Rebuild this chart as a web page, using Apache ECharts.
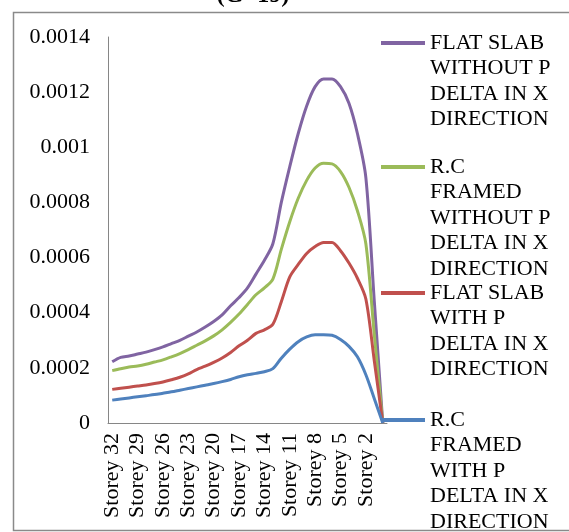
<!DOCTYPE html>
<html>
<head>
<meta charset="utf-8">
<script src="https://cdn.jsdelivr.net/npm/echarts@6/dist/echarts.min.js"></script>
<style>
  html, body { margin: 0; padding: 0; background: #fff; }
  #chart { width: 569px; height: 532px; }
</style>
</head>
<body>
<div id="chart"></div>
<script>
// storeys, top to base
const storeys = []
for (let s = 32; s >= 1; s--) storeys.push('Storey ' + s)
storeys.push('Base')

const seriesNames = [
  'FLAT SLAB\nWITHOUT P\nDELTA IN X\nDIRECTION',
  'R.C\nFRAMED\nWITHOUT P\nDELTA IN X\nDIRECTION',
  'FLAT SLAB\nWITH P\nDELTA IN X\nDIRECTION',
  'R.C\nFRAMED\nWITH P\nDELTA IN X\nDIRECTION'
]

// drift values
const flatSlabNoPDelta = [
  0.000222, 0.000238, 0.000243, 0.000250, 0.000257, 0.000266, 0.000276, 0.000288,
  0.000300, 0.000315, 0.000330, 0.000348, 0.000368, 0.000392, 0.000425, 0.000455,
  0.000490, 0.000540, 0.000590, 0.000650, 0.000800, 0.000930, 0.001050, 0.001150,
  0.001220, 0.001248, 0.001248, 0.001220, 0.001160, 0.001050, 0.000890, 0.000440, 0
]
const rcFramedNoPDelta = [
  0.000190, 0.000197, 0.000203, 0.000207, 0.000213, 0.000221, 0.000229, 0.000240,
  0.000252, 0.000266, 0.000282, 0.000298, 0.000316, 0.000338, 0.000365, 0.000395,
  0.000430, 0.000465, 0.000490, 0.000522, 0.000630, 0.000730, 0.000815, 0.000880,
  0.000925, 0.000942, 0.000940, 0.000912, 0.000855, 0.000770, 0.000650, 0.000320, 0
]
const flatSlabPDelta = [
  0.000122, 0.000126, 0.000130, 0.000134, 0.000138, 0.000143, 0.000149, 0.000157,
  0.000166, 0.000178, 0.000194, 0.000206, 0.000220, 0.000236, 0.000256, 0.000280,
  0.000300, 0.000325, 0.000338, 0.000358, 0.000440, 0.000530, 0.000575, 0.000615,
  0.000640, 0.000655, 0.000655, 0.000625, 0.000580, 0.000525, 0.000450, 0.000225, 0
]
const rcFramedPDelta = [
  0.000083, 0.000087, 0.000091, 0.000095, 0.000099, 0.000103, 0.000108, 0.000113,
  0.000119, 0.000125, 0.000131, 0.000137, 0.000143, 0.000150, 0.000158, 0.000168,
  0.000175, 0.000180, 0.000186, 0.000197, 0.000235, 0.000268, 0.000295, 0.000312,
  0.000320, 0.000320, 0.000318, 0.000303, 0.000278, 0.000240, 0.000175, 0.000088, 0
]

const yTicks = [0, 0.0002, 0.0004, 0.0006, 0.0008, 0.001, 0.0012, 0.0014]

const colors = ['#8064A2', '#9BBB59', '#C0504D', '#4F81BD']
const allData = [flatSlabNoPDelta, rcFramedNoPDelta, flatSlabPDelta, rcFramedPDelta]
const font = 'Liberation Serif'

const chart = echarts.init(document.getElementById('chart'))

// one legend per item; blank lines in front keep the icon on the first text line
const lineH = 25.5
const legendIconY = [43, 167, 293, 420]
const legends = seriesNames.map((name, i) => {
  const n = name.split('\n').length
  return {
    data: [name],
    left: 381,
    top: legendIconY[i] - (2 * n - 1) * lineH / 2,
    itemWidth: 44,
    itemHeight: 4,
    itemGap: 0,
    icon: 'rect',
    padding: 0,
    formatter: nm => '\n'.repeat(n - 1) + nm,
    textStyle: {
      fontFamily: font,
      fontSize: 22,
      color: '#000',
      lineHeight: lineH
    }
  }
})

const option = {
  animation: false,
  color: colors,
  textStyle: { fontFamily: font },
  graphic: [
    {
      type: 'rect',
      shape: { x: 13.5, y: 12.5, width: 570, height: 518 },
      style: { fill: 'none', stroke: '#8a8a8a', lineWidth: 1.5 },
      silent: true
    },
    {
      type: 'text',
      x: 253,
      y: 8,
      style: {
        text: '(G+19)',
        font: 'bold 24px "Liberation Serif"',
        fill: '#000',
        textAlign: 'center',
        textVerticalAlign: 'bottom'
      }
    }
  ],
  legend: legends,
  grid: {
    left: 108,
    right: 182,
    top: 37,
    bottom: 109
  },
  xAxis: {
    type: 'category',
    data: storeys,
    boundaryGap: true,
    axisLine: { lineStyle: { color: '#868686', width: 1 } },
    axisTick: { show: false },
    axisLabel: {
      interval: 2,
      rotate: 90,
      color: '#000',
      fontFamily: font,
      fontSize: 22,
      margin: 10
    }
  },
  yAxis: {
    type: 'value',
    min: 0,
    max: yTicks[yTicks.length - 1],
    interval: 0.0002,
    axisLine: { show: true, lineStyle: { color: '#868686', width: 1 } },
    axisTick: { show: false },
    splitLine: { show: false },
    axisLabel: {
      color: '#000',
      fontFamily: font,
      fontSize: 22,
      margin: 18
    }
  },
  series: allData.map((d, i) => ({
    name: seriesNames[i],
    type: 'line',
    data: d,
    smooth: 0.3,
    showSymbol: false,
    lineStyle: { width: 3, color: colors[i] }
  }))
}

chart.setOption(option)
</script>
</body>
</html>
